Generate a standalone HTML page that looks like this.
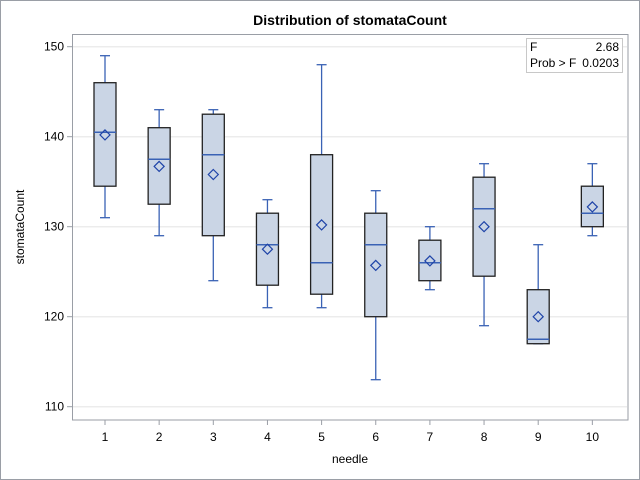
<!DOCTYPE html>
<html><head><meta charset="utf-8"><style>
body{margin:0;background:#fff}
svg{display:block;font-family:"Liberation Sans",Arial,sans-serif}
</style></head><body>
<svg id="c" width="640" height="480">
<rect x="0.5" y="0.5" width="639" height="479" fill="#fff" stroke="#9a9ea6"/>
<text x="350" y="25" text-anchor="middle" font-size="14" font-weight="bold">Distribution of stomataCount</text>
<g id="grid"></g>
<g id="marks"></g>
<rect x="72.5" y="34.5" width="555.5" height="385.5" fill="none" stroke="#9a9ea6"/>
<g id="axes"></g>
<text x="350" y="463" text-anchor="middle" font-size="12">needle</text>
<text transform="translate(24,227) rotate(-90)" text-anchor="middle" font-size="12">stomataCount</text>
<g>
<rect x="526.5" y="38.5" width="96" height="34" fill="#fff" stroke="#c8c8c8"/>
<text x="530" y="51" font-size="12">F</text>
<text x="619" y="51" font-size="12" text-anchor="end">2.68</text>
<text x="530" y="67" font-size="12">Prob &gt; F</text>
<text x="619" y="67" font-size="12" text-anchor="end">0.0203</text>
</g>
</svg>
<script>
const categories=["1","2","3","4","5","6","7","8","9","10"];
const mins=[131,129,124,121,121,113,123,119,117,129];
const q1s=[134.5,132.5,129,123.5,122.5,120,124,124.5,117,130];
const medians=[140.5,137.5,138,128,126,128,126,132,117.5,131.5];
const q3s=[146,141,142.5,131.5,138,131.5,128.5,135.5,123,134.5];
const maxs=[149,143,143,133,148,134,130,137,128,137];
const means=[140.2,136.7,135.8,127.5,130.2,125.7,126.2,130,120,132.2];
const yTicks=[110,120,130,140,150];
const NS="http://www.w3.org/2000/svg";
function y(v){return 406.7-(v-110)*9.0;}
function x(i){return 105+i*54.15;}
function mk(tag,attrs,parent){const e=document.createElementNS(NS,tag);for(const k in attrs)e.setAttribute(k,attrs[k]);parent.appendChild(e);return e;}
const grid=document.getElementById('grid'),marks=document.getElementById('marks'),axes=document.getElementById('axes');
yTicks.forEach(t=>{
 const g=mk('line',{x1:73,x2:627,y1:y(t),y2:y(t),stroke:'#ececec','stroke-width':1.5},grid);
 
 
 const tk=mk('line',{x1:67,x2:72,y1:y(t),y2:y(t),stroke:'#9a9ea6'},axes);
 
 
 const tl=mk('text',{x:64,y:y(t)+4,'text-anchor':'end','font-size':12},axes);
 tl.textContent=t;
 
 
});
categories.forEach((c,i)=>{
 const cx=x(i),w=11;
 const tk=mk('line',{x1:cx,x2:cx,y1:420,y2:425,stroke:'#9a9ea6'},axes);
 
 
 const tl=mk('text',{x:cx,y:441,'text-anchor':'middle','font-size':12},axes);
 tl.textContent=c;
 
 
 const g=mk('g',{},marks);
 
 
 const bl='#3a62b5';
 mk('line',{x1:cx,x2:cx,y1:y(maxs[i]),y2:y(q3s[i]),stroke:bl,'stroke-width':1.3},g);
 mk('line',{x1:cx,x2:cx,y1:y(q1s[i]),y2:y(mins[i]),stroke:bl,'stroke-width':1.3},g);
 mk('line',{x1:cx-5,x2:cx+5,y1:y(maxs[i]),y2:y(maxs[i]),stroke:bl,'stroke-width':1.3},g);
 mk('line',{x1:cx-5,x2:cx+5,y1:y(mins[i]),y2:y(mins[i]),stroke:bl,'stroke-width':1.3},g);
 mk('rect',{x:cx-w,y:y(q3s[i]),width:2*w,height:y(q1s[i])-y(q3s[i]),fill:'#cad5e5',stroke:'#222','stroke-width':1.3},g);
 mk('line',{x1:cx-w,x2:cx+w,y1:y(medians[i]),y2:y(medians[i]),stroke:bl,'stroke-width':1.5},g);
 const my=y(means[i]);
 mk('polygon',{points:`${cx},${my-5} ${cx+5},${my} ${cx},${my+5} ${cx-5},${my}`,fill:'none',stroke:'#1f44a8','stroke-width':1.2},g);
});
</script>
</body></html>
